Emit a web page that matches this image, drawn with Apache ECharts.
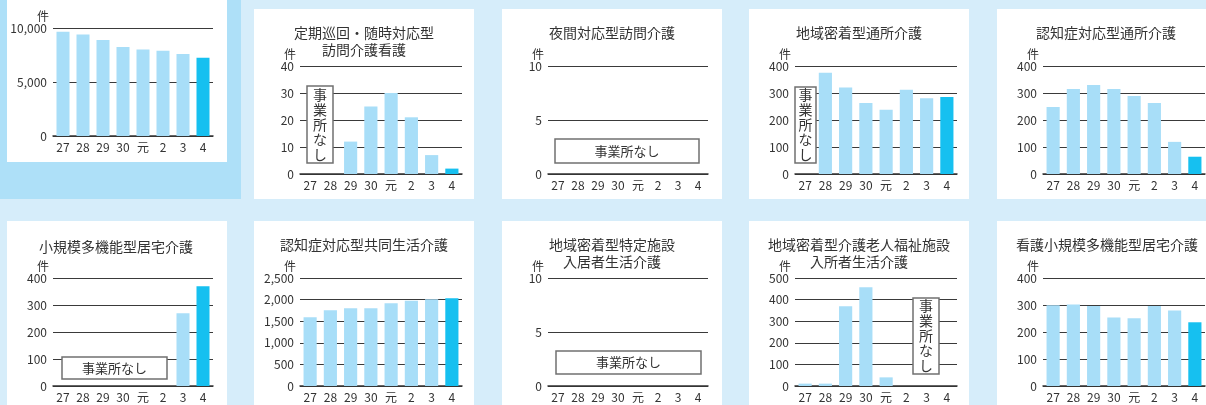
<!DOCTYPE html>
<html><head><meta charset="utf-8">
<script src="https://cdn.jsdelivr.net/npm/echarts@6/dist/echarts.min.js"></script>
<style>html,body{margin:0;padding:0;background:#d6edfa;}#c{width:1206px;height:405px;}</style>
</head><body><div id="c"></div>
<script>
// ---- data ----
const categories = ['27','28','29','30','元','2','3','4'];
const titles = [
  '居宅サービス事業所数合計',
  '定期巡回・随時対応型\n訪問介護看護',
  '夜間対応型訪問介護',
  '地域密着型通所介護',
  '認知症対応型通所介護',
  '小規模多機能型居宅介護',
  '認知症対応型共同生活介護',
  '地域密着型特定施設\n入居者生活介護',
  '地域密着型介護老人福祉施設\n入所者生活介護',
  '看護小規模多機能型居宅介護'
];
const valTotal      = [9650, 9400, 8900, 8250, 8000, 7900, 7600, 7250];
const valTeiki      = [null, null, 12, 25, 30, 21, 7, 2];
const valYakan      = [null, null, null, null, null, null, null, null];
const valTsusho     = [null, 375, 320, 263, 238, 312, 281, 285];
const valNinchiTsu  = [248, 315, 330, 315, 289, 263, 119, 64];
const valShokibo    = [null, null, null, null, null, null, 269, 369];
const valGroupHome  = [1590, 1751, 1798, 1798, 1914, 1975, 2006, 2029];
const valTokutei    = [null, null, null, null, null, null, null, null];
const valRoujin     = [11, 11, 369, 457, 40, null, null, null];
const valKango      = [299, 302, 296, 254, 251, 296, 280, 236];
const yMax      = [10000, 40, 10, 400, 400, 400, 2500, 10, 500, 400];
const yInterval = [5000, 10, 5, 100, 100, 100, 500, 5, 100, 100];
const noneLabel = '事業所なし';

const seriesData = [valTotal, valTeiki, valYakan, valTsusho, valNinchiTsu,
                    valShokibo, valGroupHome, valTokutei, valRoujin, valKango];

// ---- layout ----
const FONT = '"Noto Sans CJK JP", "Noto Sans", sans-serif';
const TXT = '#333';
const LIGHT = '#a8def8';
const DARK = '#16c0f0';
const panels = [
  {px:7,   py:0,   pw:220, ph:162, gl:53,   gt:28,  gw:160, tx:106,  ty:-8},
  {px:254, py:9,   pw:220, ph:190, gl:300,  gt:66,  gw:162, tx:364,  ty:32},
  {px:502, py:9,   pw:220, ph:190, gl:548,  gt:66,  gw:160, tx:612,  ty:32},
  {px:749, py:9,   pw:220, ph:190, gl:795,  gt:66,  gw:162, tx:859,  ty:32},
  {px:997, py:9,   pw:220, ph:190, gl:1043, gt:66,  gw:162, tx:1106, ty:32},
  {px:7,   py:221, pw:220, ph:190, gl:53,   gt:278, gw:160, tx:116,  ty:246},
  {px:254, py:221, pw:220, ph:190, gl:300,  gt:278, gw:162, tx:364,  ty:244},
  {px:502, py:221, pw:220, ph:190, gl:548,  gt:278, gw:160, tx:612,  ty:244},
  {px:749, py:221, pw:220, ph:190, gl:795,  gt:278, gw:162, tx:859,  ty:244},
  {px:997, py:221, pw:220, ph:190, gl:1043, gt:278, gw:162, tx:1107, ty:244}
];
// annotation boxes "事業所なし": [panel, x, y, w, h, vertical]
const boxes = [
  [1, 307, 86, 26, 77, true],
  [2, 555, 139, 144, 24, false],
  [3, 795, 87, 21, 76, true],
  [5, 62, 357, 105, 22, false],
  [7, 556, 351, 145, 23, false],
  [8, 913, 298, 26, 76, true]
];

const chart = echarts.init(document.getElementById('c'), null, {renderer:'canvas'});
const grid = [], xAxis = [], yAxis = [], series = [], graphic = [];

graphic.push({type:'rect', shape:{x:0,y:0,width:241,height:199}, style:{fill:'#aee0f8'}, z:-10, silent:true});
panels.forEach((p, i) => {
  graphic.push({type:'rect', shape:{x:p.px,y:p.py,width:p.pw,height:p.ph}, style:{fill:'#fff'}, z:-9, silent:true});
  graphic.push({type:'text', x:p.tx, y:p.ty - 8, z:5, style:{text:titles[i], font:'14px ' + FONT, fill:TXT, textAlign:'center', textVerticalAlign:'top', lineHeight:17}});
  grid.push({left:p.gl, top:p.gt, width:p.gw, height:108, containLabel:false});
  xAxis.push({type:'category', gridIndex:i, data:categories,
    axisLine:{lineStyle:{color:'#333', width:1.5}}, axisTick:{show:false},
    axisLabel:{color:TXT, fontFamily:FONT, fontSize:12, margin:5}});
  yAxis.push({type:'value', gridIndex:i, min:0, max:yMax[i], interval:yInterval[i],
    name:'件', nameLocation:'end', nameGap:6,
    nameTextStyle:{color:TXT, fontFamily:FONT, fontSize:12, align:'right', padding:[0,4,0,0]},
    axisLine:{show:false}, axisTick:{show:false},
    splitLine:{lineStyle:{color:'#3a3a3a', width:1}},
    axisLabel:{color:TXT, fontFamily:FONT, fontSize:12, margin:6, formatter:v => v.toLocaleString('en-US')}});
  const last = seriesData[i].length - 1;
  series.push({type:'bar', xAxisIndex:i, yAxisIndex:i, barWidth:'65%',
    data:seriesData[i],
    itemStyle:{color: prm => prm.dataIndex === last ? DARK : LIGHT}});
});
boxes.forEach(b => {
  const [pi, x, y, w, h, vert] = b;
  graphic.push({type:'rect', z:10, shape:{x:x, y:y, width:w, height:h}, style:{fill:'#fff', stroke:'#707070', lineWidth:1.5}});
  const t = vert ? noneLabel.split('').join('\n') : noneLabel;
  graphic.push({type:'text', z:11, x:x + w/2, y:y + h/2, style:{text:t, font:(vert ? '14px ' : '13px ') + FONT, fill:TXT, textAlign:'center', textVerticalAlign:'middle', lineHeight:15}});
});

chart.setOption({animation:false, backgroundColor:'#d6edfa', grid, xAxis, yAxis, series, graphic});
</script></body></html>
